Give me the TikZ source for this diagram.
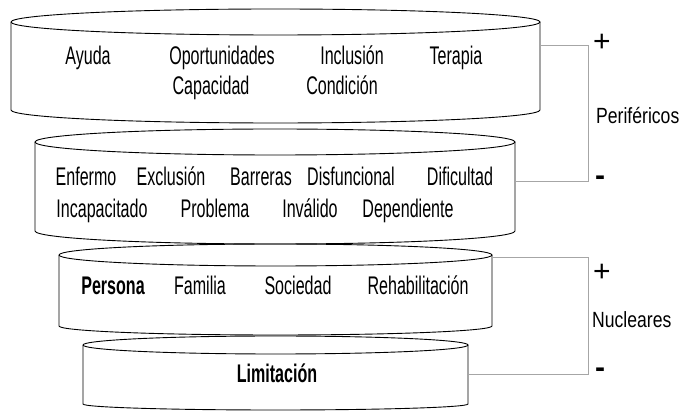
\documentclass[tikz,border=0pt]{standalone}
\usepackage{fontspec}
\setmainfont{Liberation Sans}
\newfontfamily\condfont[FakeStretch=0.63]{Liberation Sans}
\newfontfamily\labfont[FakeStretch=0.8]{Liberation Sans}
\definecolor{brk}{HTML}{A6A6A6}
\newcommand\drawcyl[6]{% x1 x2 ytop ybot rytop rybot
  \pgfmathsetmacro\cxr{(#2-#1)/2}
  \draw[cyl] (#1,#3) arc[start angle=180,end angle=-180,x radius=\cxr,y radius=#5];
  \draw[cyl] (#1,#3) -- (#1,#4) arc[start angle=180,end angle=0,x radius=\cxr,y radius=#6] -- (#2,#3);
}
\begin{document}
\begin{tikzpicture}[x=1pt,y=-1pt,
  cyl/.style={draw=black,line width=0.9pt},
  word/.style={font=\condfont\fontsize{25.5}{25.5}\selectfont,inner sep=0pt,anchor=base},
  bword/.style={word,font=\condfont\bfseries\fontsize{25.5}{25.5}\selectfont},
  lab/.style={font=\labfont\fontsize{22}{22}\selectfont,inner sep=0pt,anchor=base west},
  sign/.style={font=\fontsize{30}{30}\selectfont,inner sep=0pt,anchor=center},
  brkline/.style={draw=brk,line width=1pt}]
\useasboundingbox (0,0) rectangle (680,411);
% cylinders
\drawcyl{11}{540}{22}{110}{13}{13}
\drawcyl{35}{515}{142}{231}{13}{13}
\drawcyl{59}{492}{255}{326}{11}{9}
\drawcyl{83}{468}{345}{404}{9}{6}
% right-edge anchors
\coordinate (c1) at (540,46);
\coordinate (c2) at (515,182);
\coordinate (c3) at (492,258);
\coordinate (c4) at (468,375);
\coordinate (b1) at (588,46);
\coordinate (b2) at (588,182);
\coordinate (b3) at (588,258);
\coordinate (b4) at (588,375);
% texts cylinder 1
\node[word] (ayuda) at (88,65) {Ayuda};
\node[word] (oport) at (222,65) {Oportunidades};
\node[word] (inclu) at (352,65) {Inclusión};
\node[word] (terap) at (456,65) {Terapia};
\node[word] (capac) at (211,95) {Capacidad};
\node[word] (condi) at (342,95) {Condición};
% texts cylinder 2
\node[word] (enfer) at (86,186) {Enfermo};
\node[word] (exclu) at (171,186) {Exclusión};
\node[word] (barre) at (261,186) {Barreras};
\node[word] (disfu) at (351,186) {Disfuncional};
\node[word] (dific) at (460,186) {Dificultad};
\node[word] (incap) at (102,218) {Incapacitado};
\node[word] (probl) at (215,218) {Problema};
\node[word] (inval) at (310,218) {Inválido};
\node[word] (depen) at (408,218) {Dependiente};
% texts cylinder 3
\node[bword] (perso) at (113,295) {Persona};
\node[word] (famil) at (200,295) {Familia};
\node[word] (socie) at (298,295) {Sociedad};
\node[word] (rehab) at (418,295) {Rehabilitación};
% text cylinder 4
\node[bword] (limit) at (277,383) {Limitación};
% brackets
\draw[brkline] (c1) -- (b1) -- (b2) -- (c2);
\draw[brkline] (c3) -- (b3) -- (b4) -- (c4);
\node[sign] (p1) at (602,43) {+};
\node[sign] (m1) at (600,181) {\bfseries -};
\node[lab] (perif) at (596,124) {Periféricos};
\node[sign] (p2) at (602,273) {+};
\node[sign] (m2) at (600,373) {\bfseries -};
\node[lab] (nucle) at (592,328) {Nucleares};
\end{tikzpicture}
\end{document}
